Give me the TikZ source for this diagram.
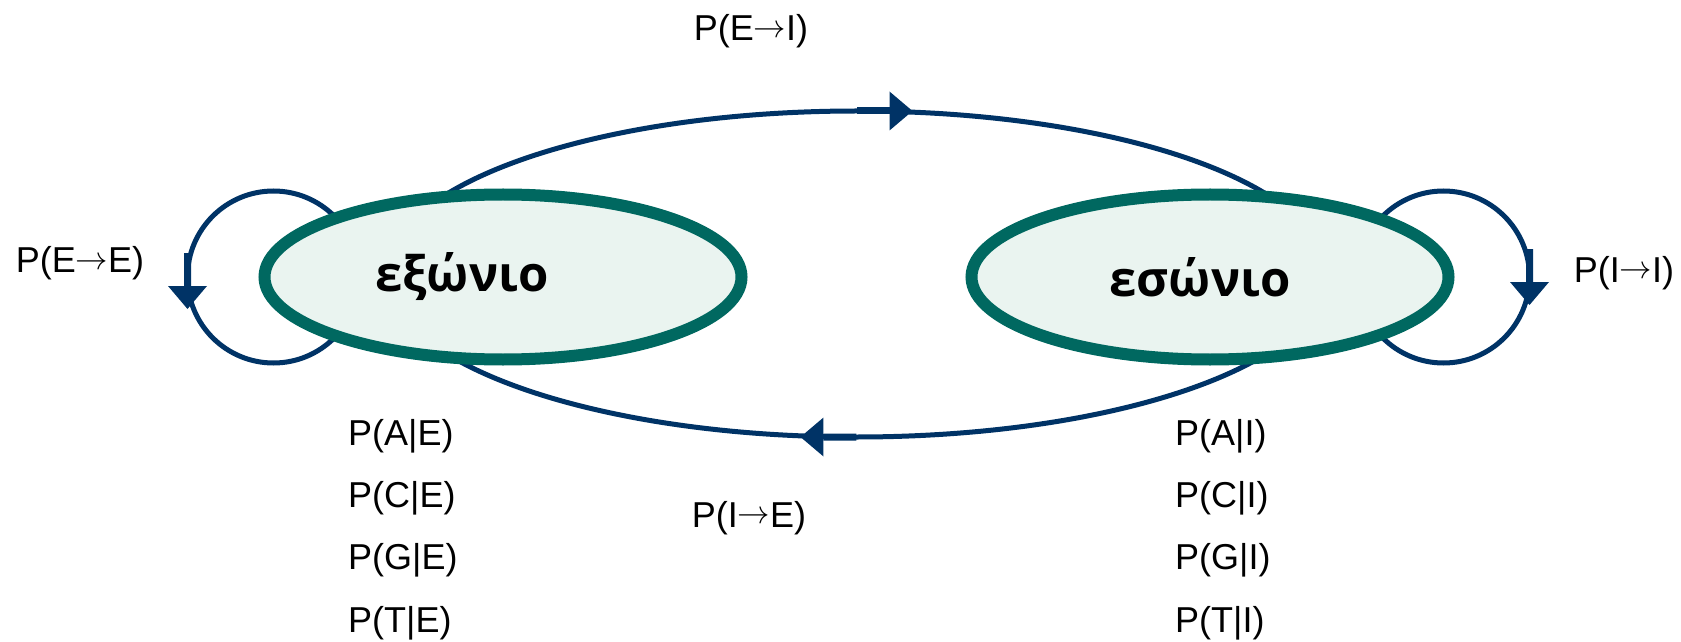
\documentclass[tikz,border=0pt]{standalone}
\usepackage{fontspec}
\setmainfont{Liberation Sans}
\newfontfamily\statefont[Script=Greek]{Open Sans}
\usetikzlibrary{shapes.geometric, positioning, backgrounds, decorations.markings}
\definecolor{navy}{RGB}{0,51,102}
\definecolor{ringteal}{RGB}{0,104,96}
\definecolor{mint}{RGB}{234,244,240}

% thick stem + head, head starts at #1 along the path
\newcommand{\pptarrow}[1]{%
  \fill[navy] (#1-33,-3.5) rectangle (#1,3.5);
  \fill[navy] (#1,-19.5) -- (#1+23,0) -- (#1,19.5) -- cycle;}
\newcommand{\goesto}{\raisebox{0.1em}{\resizebox{0.9em}{!}{$\rightarrow$}}}

\tikzset{
  state/.style={ellipse, draw=ringteal, line width=12pt, fill=mint,
    minimum width=477pt, minimum height=165pt, inner sep=0pt, outer sep=0pt,
    font=\statefont\bfseries\fontsize{49}{56}\selectfont},
  link/.style={draw=navy, line width=5pt},
  flow/.style={postaction={decorate, decoration={markings,
    mark=at position 0.5 with {\pptarrow{#1}}}}},
  prob/.style={font=\fontsize{36}{42}\selectfont, inner sep=0pt,
    text height=26pt, text depth=9pt},
}

\begin{document}
\begin{tikzpicture}[x=1pt, y=1pt]
  \useasboundingbox (0,0) rectangle (1681,641);

  % Define nodes
  \node[state] (ext) at (503,364) {εξώνιο\hspace*{82pt}};
  \node[state] (int) at (1210,364) {εσώνιο\hspace*{20pt}};
  \coordinate (hub) at (856.5,367);
  \coordinate (loopE) at ([xshift=9pt]ext.west);
  \coordinate (loopI) at ([xshift=-5pt]int.east);
  %--
  \node[prob, anchor=base] (pEI) at (751,600) {P(E\goesto I)};
  \node[prob, anchor=base] (pIE) at (749,114) {P(I\goesto E)};
  \node[prob, anchor=base] (pEE) at (80,368) {P(E\goesto E)};
  \node[prob, anchor=base] (pII) at (1624,359) {P(I\goesto I)};
  %--
  \node[prob, anchor=base west] (AE) at (348,196) {P(A|E)};
  \node[prob, below=27pt of AE.south west, anchor=north west] (CE) {P(C|E)};
  \node[prob, below=27pt of CE.south west, anchor=north west] (GE) {P(G|E)};
  \node[prob, below=27pt of GE.south west, anchor=north west] (TE) {P(T|E)};
  \node[prob, anchor=base west] (AI) at (1175,196) {P(A|I)};
  \node[prob, below=27pt of AI.south west, anchor=north west] (CI) {P(C|I)};
  \node[prob, below=27pt of CI.south west, anchor=north west] (GI) {P(G|I)};
  \node[prob, below=27pt of GI.south west, anchor=north west] (TI) {P(T|I)};

  % Connect the nodes
  \begin{scope}[on background layer]
    \draw[link, flow=33] ([xshift=-470pt]hub) arc[start angle=180, end angle=0,
      x radius=470pt, y radius=163pt];
    \draw[link, flow=33] ([xshift=470pt]hub) arc[start angle=0, end angle=-180,
      x radius=470pt, y radius=163pt];
    \draw[link, flow=9] (loopE) ++(0:86pt) arc[start angle=0, end angle=360, radius=86pt];
    \draw[link, flow=5] (loopI) ++(180:86pt) arc[start angle=180, end angle=-180, radius=86pt];
  \end{scope}
\end{tikzpicture}
\end{document}
